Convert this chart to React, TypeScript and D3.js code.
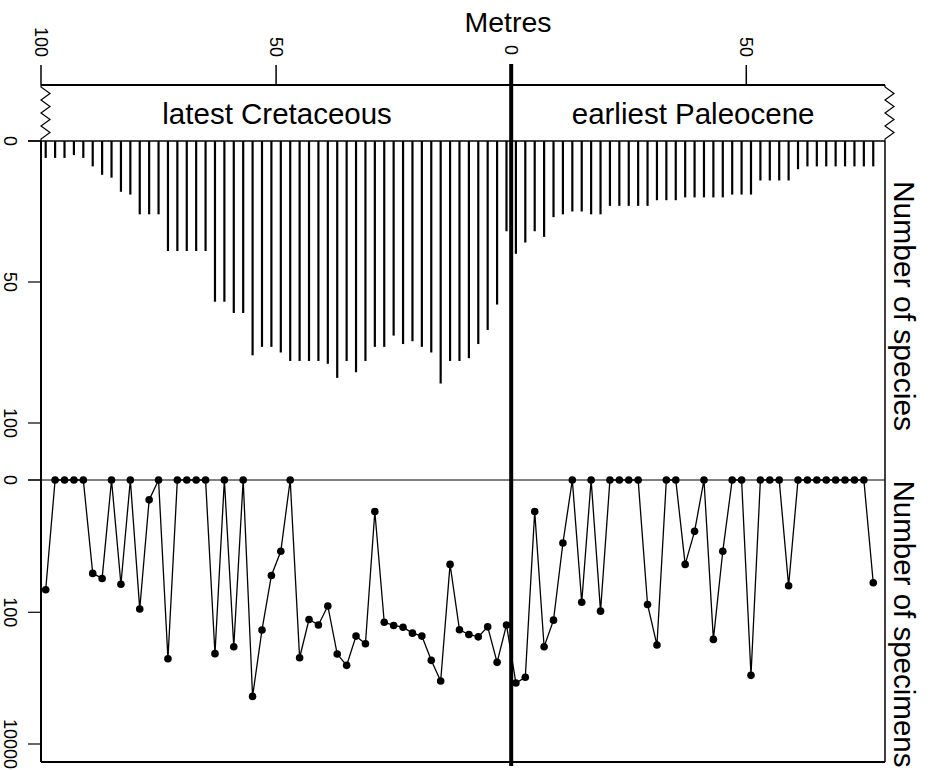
import React, { useEffect, useRef } from 'react';
import * as d3 from 'd3';

// sample positions in metres (negative = below the boundary)
const metresK = [-99, -97, -95, -93, -91, -89, -87, -85, -83, -81, -79, -77, -75, -73, -71, -69, -67, -65, -63, -61,
  -59, -57, -55, -53, -51, -49, -47, -45, -43, -41, -39, -37, -35, -33, -31, -29, -27, -25, -23, -21,
  -19, -17, -15, -13, -11, -9, -7, -5, -3, -1];
const metresP = [1, 3, 5, 7, 9, 11, 13, 15, 17, 19, 21, 23, 25, 27, 29, 31, 33, 35, 37, 39,
  41, 43, 45, 47, 49, 51, 53, 55, 57, 59, 61, 63, 65, 67, 69, 71, 73, 75, 77];

const speciesK = [6, 6, 6, 5, 6, 9, 12, 13, 18, 19, 26, 26, 26, 39, 39, 39, 39, 39, 57, 57,
  61, 61, 76, 73, 73, 75, 78, 78, 78, 78, 79, 84, 78, 82, 78, 73, 73, 69, 72, 71,
  73, 75, 86, 78, 78, 77, 72, 67, 58, 32];
const speciesP = [40, 36, 32, 34, 27, 26, 25, 25, 26, 26, 23, 23, 23, 23, 23, 21, 21, 21, 20, 20,
  20, 20, 20, 19, 19, 19, 14, 14, 14, 14, 10, 9, 9, 9, 9, 9, 9, 9, 9];

const specimensK = [45, 0, 0, 0, 0, 25, 30, 0, 37, 0, 89, 1, 0, 509, 0, 0, 0, 0, 427, 0,
  335, 0, 1900, 186, 27, 11, 0, 492, 129, 156, 80, 433, 642, 231, 302, 2, 142, 159, 169, 208,
  231, 539, 1110, 18, 185, 218, 237, 167, 578, 156];
const specimensP = [1190, 975, 2, 335, 132, 8, 0, 70, 0, 96, 0, 0, 0, 0, 76, 316, 0, 0, 18, 5,
  0, 259, 11, 0, 0, 910, 0, 0, 0, 39, 0, 0, 0, 0, 0, 0, 0, 0, 35];

const metreTicks = [-100, -50, 0, 50];
const speciesTicks = [0, 50, 100];
const specimenTicks = [0, 100, 10000];

const FONT = "'Liberation Sans', Arial, Helvetica, sans-serif";

export default function App() {
  const svgRef = useRef<SVGSVGElement>(null);

  useEffect(() => {
    const svg = d3.select(svgRef.current);
    svg.selectAll('*').remove();

    const left = 41, right = 885, top = 85, boxBottom = 141, bottom = 762;
    const x = d3.scaleLinear().domain([-100, 79.5]).range([left, right]);
    const ySp = d3.scaleLinear().domain([0, 100]).range([boxBottom, 423]);
    const ySpec = d3.scaleLog().domain([1, 10001]).range([480, 744]);

    const g = svg.append('g').attr('font-family', FONT).attr('fill', 'none');

    // top axis
    g.append('line').attr('x1', left).attr('x2', right).attr('y1', top).attr('y2', top)
      .attr('stroke', '#000').attr('stroke-width', 2);
    metreTicks.forEach(t => {
      if (t !== 0) {
        g.append('line').attr('x1', x(t)).attr('x2', x(t)).attr('y1', 65).attr('y2', top)
          .attr('stroke', '#000').attr('stroke-width', 1.5);
      }
      g.append('text')
        .attr('transform', `translate(${x(t) - 6.5},${t === 0 ? 55 : 57}) rotate(90)`)
        .attr('text-anchor', 'end').attr('font-size', 18).attr('fill', '#000')
        .text(Math.abs(t));
    });
    g.append('text').attr('x', 508).attr('y', 32).attr('text-anchor', 'middle')
      .attr('font-size', 28.5).attr('fill', '#000').text('Metres');

    // epoch box
    const zig = (x0: number) => d3.line()([
      [x0, top], [x0, 87], [x0 + 9, 93.5], [x0, 100], [x0 + 9, 106.5], [x0, 113],
      [x0 + 9, 119.5], [x0, 126], [x0 + 9, 132.5], [x0, 139], [x0, boxBottom]
    ]);
    g.append('path').attr('d', zig(left)).attr('stroke', '#000').attr('stroke-width', 1.2);
    g.append('path').attr('d', zig(right)).attr('stroke', '#000').attr('stroke-width', 1.2);
    g.append('text').attr('x', (x(-100) + x(0)) / 2 + 1).attr('y', 123.5).attr('text-anchor', 'middle')
      .attr('font-size', 29.5).attr('fill', '#000').text('latest Cretaceous');
    g.append('text').attr('x', (x(0) + right) / 2 - 5).attr('y', 123.5).attr('text-anchor', 'middle')
      .attr('font-size', 29.5).attr('fill', '#000').text('earliest Paleocene');

    // frame
    g.append('line').attr('x1', left).attr('x2', left).attr('y1', boxBottom).attr('y2', bottom)
      .attr('stroke', '#000').attr('stroke-width', 2);
    g.append('line').attr('x1', right).attr('x2', right).attr('y1', boxBottom).attr('y2', bottom)
      .attr('stroke', '#000').attr('stroke-width', 1.5);
    g.append('line').attr('x1', left).attr('x2', right).attr('y1', bottom).attr('y2', bottom)
      .attr('stroke', '#000').attr('stroke-width', 2);

    // species axis
    g.append('line').attr('x1', 28).attr('x2', right).attr('y1', boxBottom).attr('y2', boxBottom)
      .attr('stroke', '#000').attr('stroke-width', 1.5);
    speciesTicks.forEach(t => {
      g.append('line').attr('x1', 28).attr('x2', left).attr('y1', ySp(t)).attr('y2', ySp(t))
        .attr('stroke', '#000').attr('stroke-width', 1.2);
      g.append('text').attr('transform', `translate(4,${ySp(t)}) rotate(90)`)
        .attr('text-anchor', 'middle').attr('font-size', 18).attr('fill', '#000').text(t);
    });

    // specimen axis
    g.append('line').attr('x1', 28).attr('x2', right).attr('y1', ySpec(1)).attr('y2', ySpec(1))
      .attr('stroke', '#000').attr('stroke-width', 1);
    specimenTicks.forEach(t => {
      g.append('line').attr('x1', 28).attr('x2', left).attr('y1', ySpec(t + 1)).attr('y2', ySpec(t + 1))
        .attr('stroke', '#000').attr('stroke-width', 1.2);
      g.append('text').attr('transform', `translate(4,${ySpec(t + 1)}) rotate(90)`)
        .attr('text-anchor', 'middle').attr('font-size', 18).attr('fill', '#000').text(t);
    });

    // species bars
    const metres = metresK.concat(metresP);
    const species = speciesK.concat(speciesP);
    const specimens = specimensK.concat(specimensP);

    g.append('g').selectAll('line').data(metres).enter().append('line')
      .attr('x1', d => x(d)).attr('x2', d => x(d))
      .attr('y1', ySp(0)).attr('y2', (d, i) => ySp(species[i]))
      .attr('stroke', '#000').attr('stroke-width', 2.2);

    // specimens line + dots
    const pts: [number, number][] = metres.map((m, i) => [x(m), ySpec(specimens[i] + 1)]);
    g.append('path').attr('d', d3.line()(pts)).attr('stroke', '#000').attr('stroke-width', 1.3);
    g.append('g').selectAll('circle').data(pts).enter().append('circle')
      .attr('cx', d => d[0]).attr('cy', d => d[1]).attr('r', 3.8).attr('fill', '#000');

    // boundary
    g.append('line').attr('x1', x(0)).attr('x2', x(0)).attr('y1', 64).attr('y2', 766)
      .attr('stroke', '#000').attr('stroke-width', 4);

    // right titles
    g.append('text').attr('transform', 'translate(894,306) rotate(90)')
      .attr('text-anchor', 'middle').attr('font-size', 30).attr('fill', '#000').text('Number of species');
    g.append('text').attr('transform', 'translate(894,624) rotate(90)')
      .attr('text-anchor', 'middle').attr('font-size', 29.5).attr('fill', '#000').text('Number of specimens');
  }, []);

  return (
    <svg ref={svgRef} width={932} height={770}
      style={{ position: 'absolute', left: 0, top: 0, background: '#fff' }} />
  );
}
